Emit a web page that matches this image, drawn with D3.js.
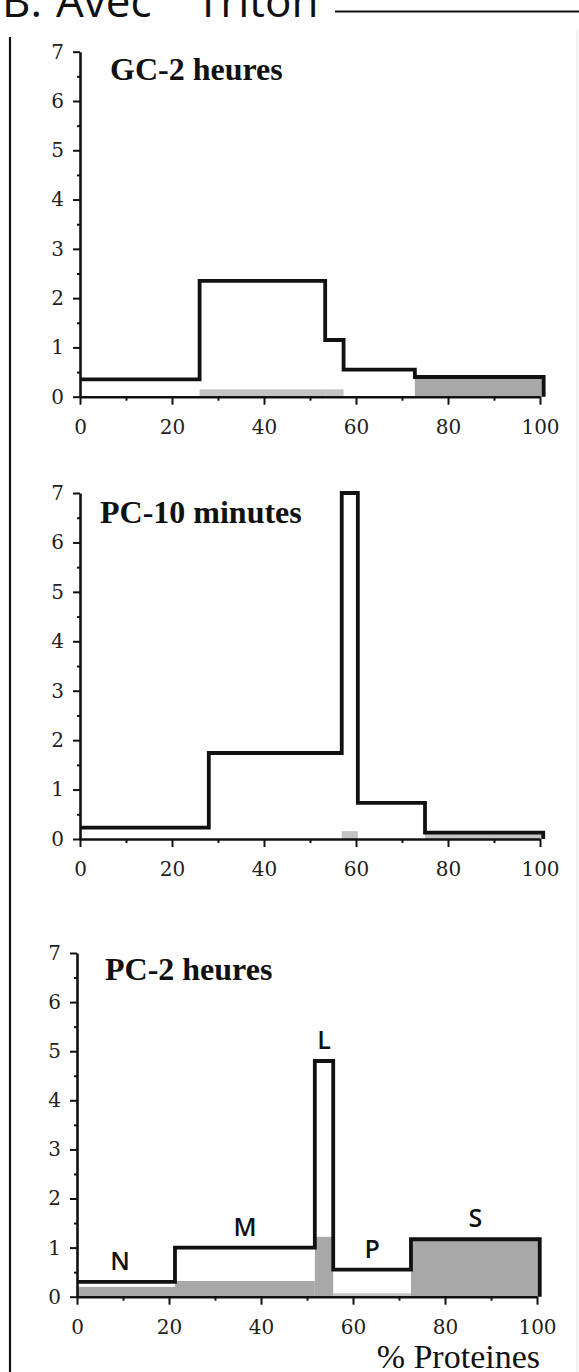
<!DOCTYPE html>
<html>
<head>
<meta charset="utf-8">
<script src="https://cdn.jsdelivr.net/npm/d3@7"></script>
<style>
  body { margin: 0; background: #fff; }
  svg { display: block; }
</style>
</head>
<body>
<div id="chart"></div>
<script>
// bin edges (% proteines) and heights for each panel
const gc2hEdges = [0, 26, 53.3, 57.3, 72.8, 100.8];
const gc2hTotal = [0.35, 2.35, 1.15, 0.55, 0.4];
const gc2hGray  = [0, 0.15, 0.15, 0, 0.38];

const pc10mEdges = [0, 28, 56.9, 60.4, 75, 100.7];
const pc10mTotal = [0.23, 1.74, 7.0, 0.73, 0.13];
const pc10mGray  = [0, 0, 0.16, 0, 0.1];

const pc2hEdges = [0, 21.3, 51.7, 55.7, 72.6, 100.6];
const pc2hTotal = [0.3, 1.0, 4.8, 0.55, 1.17];
const pc2hGray  = [0.2, 0.32, 1.22, 0.07, 1.17];
const pc2hLabels = ["N", "M", "L", "P", "S"];

const xTicks = [0, 20, 40, 60, 80, 100];
const xMinor = [10, 30, 50, 70, 90];
const yTicks = [0, 1, 2, 3, 4, 5, 6, 7];
const yMinor = [0.5, 1.5, 2.5, 3.5, 4.5, 5.5, 6.5];

const W = 579, H = 1372;

const svg = d3.select("#chart").append("svg")
    .attr("width", W)
    .attr("height", H);

// header (cut at the top, as in the scan)
const head = svg.append("g").attr("font-family", "'Open Sans', sans-serif")
    .attr("font-size", 44).attr("fill", "#111");
head.append("text").attr("x", 2).attr("y", 17).text("B.");
head.append("text").attr("x", 56).attr("y", 17).text("Avec");
head.append("text").attr("x", 196).attr("y", 17).text("Triton");
svg.append("line").attr("x1", 335).attr("x2", W).attr("y1", 11.5).attr("y2", 11.5)
    .attr("stroke", "#111").attr("stroke-width", 2.2);
svg.append("line").attr("x1", 10).attr("x2", 10).attr("y1", 37).attr("y2", H)
    .attr("stroke", "#111").attr("stroke-width", 2.2);
svg.append("line").attr("x1", 577).attr("x2", 577).attr("y1", 30).attr("y2", H)
    .attr("stroke", "#e4e4e4").attr("stroke-width", 1);

const panels = [
  { title: "GC-2 heures", edges: gc2hEdges, total: gc2hTotal, gray: gc2hGray,
    left: 80, bottom: 396.7, h: 345, titleX: 110, titleY: 80 },
  { title: "PC-10 minutes", edges: pc10mEdges, total: pc10mTotal, gray: pc10mGray,
    left: 80, bottom: 839, h: 346, titleX: 100, titleY: 523 },
  { title: "PC-2 heures", edges: pc2hEdges, total: pc2hTotal, gray: pc2hGray,
    left: 77, bottom: 1296.7, h: 343.7, titleX: 105, titleY: 980, labels: pc2hLabels }
];

panels.forEach(p => {
  const x = d3.scaleLinear().domain([0, 100]).range([0, 460]);
  const y = d3.scaleLinear().domain([0, 7]).range([p.h, 0]);
  const g = svg.append("g").attr("transform", `translate(${p.left},${p.bottom - p.h})`);

  // gray part
  const bins = p.total.map((v, i) => ({ x0: p.edges[i], x1: p.edges[i + 1], total: v, gray: p.gray[i] }));
  g.selectAll("rect.gray")
    .data(bins.filter(d => d.gray > 0))
    .join("rect")
    .attr("class", "gray")
    .attr("x", d => x(d.x0))
    .attr("width", d => x(d.x1) - x(d.x0))
    .attr("y", d => y(d.gray))
    .attr("height", d => y(0) - y(d.gray))
    .attr("fill", d => d.gray < 0.2 ? "#c4c4c4" : "#a8a8a8");

  // step outline
  const pts = bins.map(d => [d.x0, d.total]);
  pts.push([p.edges[p.edges.length - 1], p.total[p.total.length - 1]]);
  const line = d3.line().x(d => x(d[0])).y(d => y(d[1])).curve(d3.curveStepAfter);
  g.append("path")
    .attr("d", line(pts) + `L${x(p.edges[p.edges.length - 1])},${y(0)}`)
    .attr("fill", "none")
    .attr("stroke", "#111")
    .attr("stroke-width", 3.8)
    .attr("stroke-linejoin", "miter");

  // axes
  g.append("g").attr("transform", `translate(0,${p.h})`)
    .call(d3.axisBottom(x).tickValues(xTicks).tickSize(8).tickSizeOuter(0).tickPadding(15));
  g.append("g").attr("transform", `translate(0,${p.h})`)
    .call(d3.axisBottom(x).tickValues(xMinor).tickSize(4).tickFormat(""))
    .select(".domain").remove();
  g.append("g")
    .call(d3.axisLeft(y).tickValues(yTicks).tickSize(7).tickSizeOuter(0).tickPadding(9)
      .tickFormat(d3.format("d")));
  g.append("g")
    .call(d3.axisLeft(y).tickValues(yMinor).tickSize(3).tickFormat(""))
    .select(".domain").remove();

  g.selectAll(".domain").attr("stroke", "#111").attr("stroke-width", 2.6);
  g.selectAll(".tick line").attr("stroke", "#111").attr("stroke-width", 2);
  g.selectAll(".tick text")
    .attr("font-family", "'DejaVu Serif', serif")
    .attr("font-size", 20)
    .attr("fill", "#222");

  // title
  svg.append("text")
    .attr("x", p.titleX).attr("y", p.titleY)
    .attr("font-family", "'Liberation Serif', serif")
    .attr("font-weight", "bold")
    .attr("font-size", 32)
    .attr("fill", "#111")
    .text(p.title);

  // fraction labels
  if (p.labels) {
    g.selectAll("text.lab")
      .data(bins)
      .join("text")
      .attr("class", "lab")
      .attr("x", (d, i) => x((d.x0 + d.x1) / 2) - (i === 0 ? 6 : 0))
      .attr("y", d => y(d.total) - 12)
      .attr("text-anchor", "middle")
      .attr("font-family", "'Open Sans', sans-serif")
      .attr("font-weight", 600)
      .attr("font-size", 25)
      .attr("fill", "#111")
      .text((d, i) => p.labels[i]);
  }
});

// x axis title
svg.append("text")
  .attr("x", 540).attr("y", 1368)
  .attr("text-anchor", "end")
  .attr("font-family", "'Liberation Serif', serif")
  .attr("font-size", 34)
  .attr("fill", "#111")
  .text("% Proteines");
</script>
</body>
</html>
